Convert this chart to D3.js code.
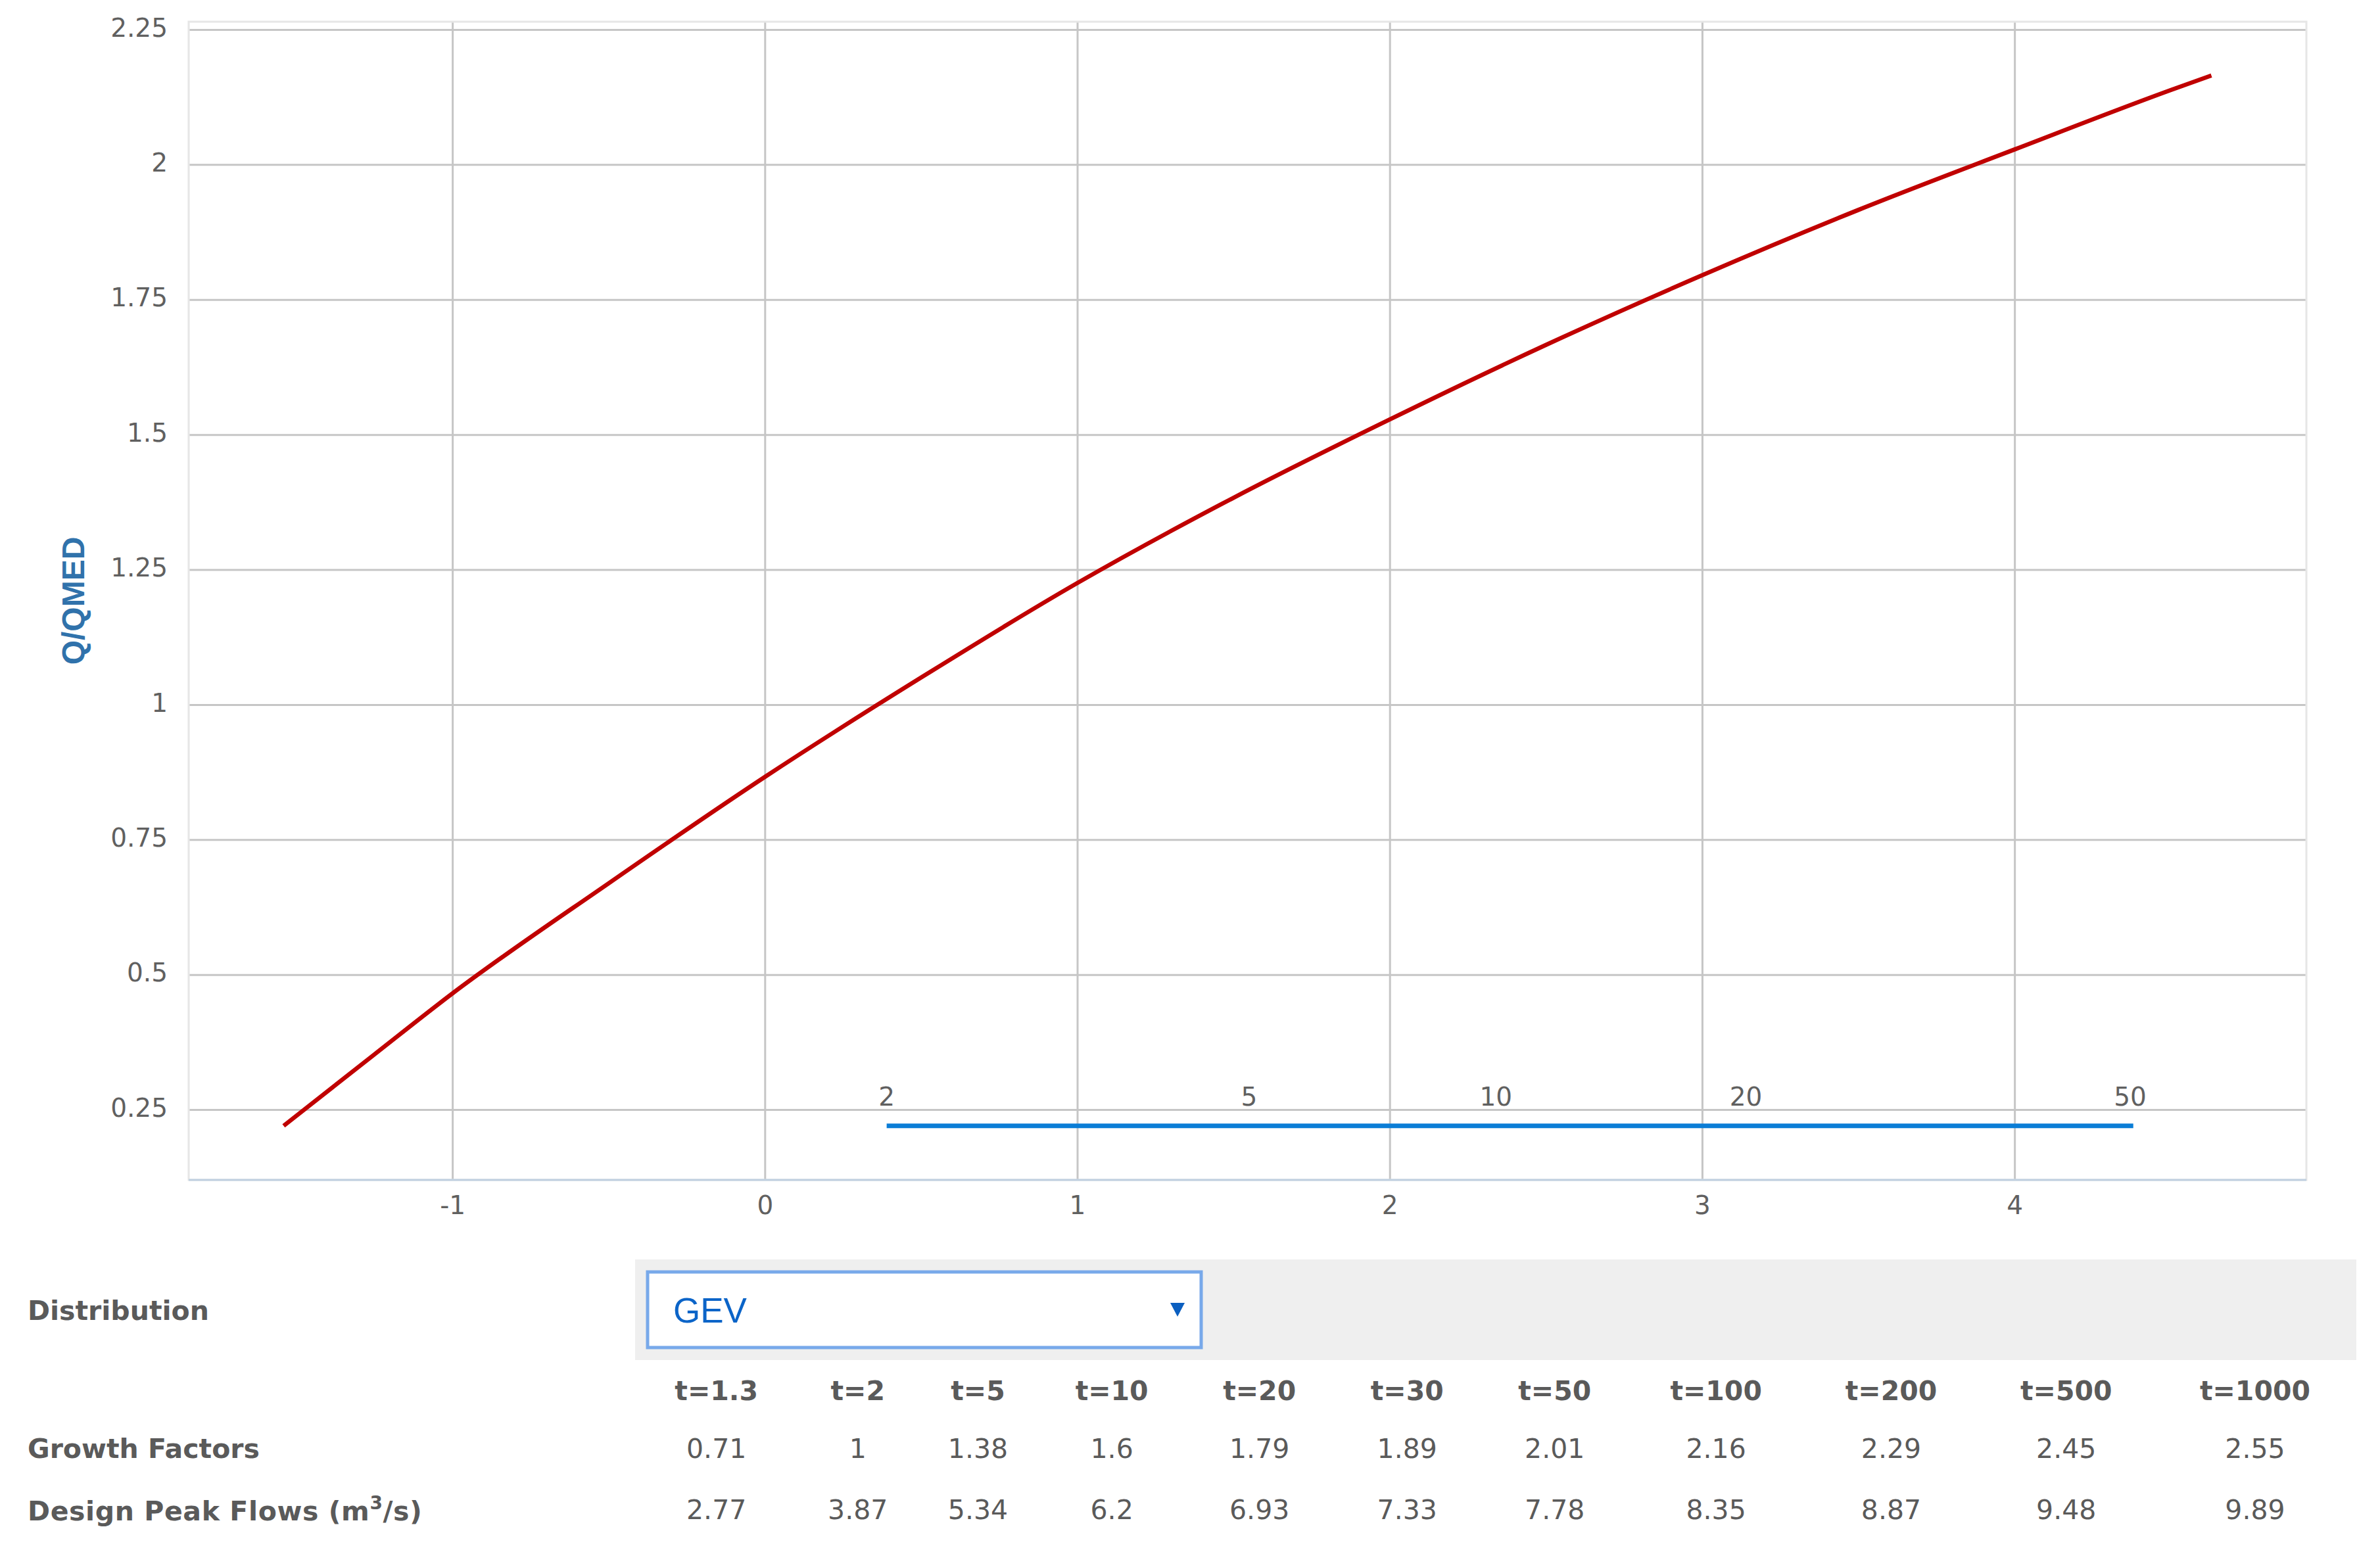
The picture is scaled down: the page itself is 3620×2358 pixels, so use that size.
<!DOCTYPE html>
<html>
<head>
<meta charset="utf-8">
<script src="https://cdn.jsdelivr.net/npm/d3@7"></script>
<style>
	body { margin: 0; background: #fff; }
	text { font-family: "DejaVu Sans", Verdana, sans-serif; }
</style>
</head>
<body>
<div id="container"></div>
<script>
// growth curve (x = reduced variate, y = Q/QMED)
var curveX = [-1.54, -1.25, -1, -0.5, 0, 0.5, 1, 1.5, 2, 2.5, 3, 3.5, 4, 4.5, 4.63];
var curveY = [0.22, 0.352, 0.465, 0.669, 0.866, 1.05, 1.225, 1.383, 1.528, 1.666, 1.795, 1.916, 2.028, 2.138, 2.165];

// return period scale drawn along the bottom
var returnPeriods = ["2", "5", "10", "20", "50"];
var returnX = [0.39, 1.55, 2.34, 3.14, 4.37];
var returnLineX = [0.39, 4.38];
var returnLineY = [0.22, 0.22];

var xTicks = [-1, 0, 1, 2, 3, 4];
var yTicks = [0.25, 0.5, 0.75, 1, 1.25, 1.5, 1.75, 2, 2.25];

// table below the chart
var distribution = "GEV";
var tLabels = ["t=1.3", "t=2", "t=5", "t=10", "t=20", "t=30", "t=50", "t=100", "t=200", "t=500", "t=1000"];
var growthFactors = ["0.71", "1", "1.38", "1.6", "1.79", "1.89", "2.01", "2.16", "2.29", "2.45", "2.55"];
var peakFlows = ["2.77", "3.87", "5.34", "6.2", "6.93", "7.33", "7.78", "8.35", "8.87", "9.48", "9.89"];

var W = 3620, H = 2358;
var pLeft = 287, pRight = 3508, pTop = 33, pBottom = 1795; //plot frame

var svg = d3.select("div#container").append("svg")
	.attr("width", W)
	.attr("height", H);

var x = d3.scaleLinear().domain([-1.844, 4.934]).range([pLeft, pRight]);
var y = d3.scaleLinear().domain([0.1198, 2.2646]).range([pBottom, pTop]);

// y grid + labels
var yAxis = svg.append("g")
	.attr("transform", "translate(" + pLeft + ",0)")
	.call(d3.axisLeft(y).tickValues(yTicks).tickSize(-(pRight - pLeft)).tickPadding(32).tickFormat(String));
// x grid + labels
var xAxis = svg.append("g")
	.attr("transform", "translate(0," + pBottom + ")")
	.call(d3.axisBottom(x).tickValues(xTicks).tickSize(-(pBottom - pTop)).tickPadding(24).tickFormat(String));

[yAxis, xAxis].forEach(function (g) {
	g.select(".domain").remove();
	g.selectAll(".tick line").attr("stroke", "#c6c6c6").attr("stroke-width", 3);
	g.selectAll(".tick text")
		.attr("fill", "#606060")
		.style("font-size", "39px")
		.style("font-family", "'DejaVu Sans', Verdana, sans-serif");
});
yAxis.selectAll(".tick text").attr("dy", "0.26em");

// plot frame
svg.append("rect")
	.attr("x", pLeft).attr("y", pTop)
	.attr("width", pRight - pLeft).attr("height", pBottom - pTop)
	.attr("fill", "none").attr("stroke", "#e6e6e6").attr("stroke-width", 3);
svg.append("line")
	.attr("x1", pLeft).attr("x2", pRight)
	.attr("y1", pBottom).attr("y2", pBottom)
	.attr("stroke", "#c0d0e0").attr("stroke-width", 3);

// axis title
svg.append("text")
	.attr("transform", "translate(128," + (pTop + pBottom) / 2 + ") rotate(-90)")
	.attr("text-anchor", "middle")
	.attr("fill", "#3072ab")
	.style("font-family", "'Liberation Sans', Arial, sans-serif")
	.style("font-weight", "bold")
	.style("font-size", "48px")
	.text("Q/QMED");

// return period line
var rp = returnLineX.map(function (d, i) { return [d, returnLineY[i]]; });
svg.append("path")
	.datum(rp)
	.attr("d", d3.line().x(function (d) { return x(d[0]); }).y(function (d) { return y(d[1]); }))
	.attr("fill", "none")
	.attr("stroke", "#0b7dd6")
	.attr("stroke-width", 7);

svg.selectAll("text.rp")
	.data(returnPeriods)
  .enter().append("text")
	.attr("class", "rp")
	.attr("x", function (d, i) { return x(returnX[i]); })
	.attr("y", y(returnLineY[0]) - 31)
	.attr("text-anchor", "middle")
	.attr("fill", "#606060")
	.style("font-size", "39px")
	.text(function (d) { return d; });

// growth curve
var pts = curveX.map(function (d, i) { return [d, curveY[i]]; });
svg.append("path")
	.datum(pts)
	.attr("d", d3.line().x(function (d) { return x(d[0]); }).y(function (d) { return y(d[1]); }).curve(d3.curveMonotoneX))
	.attr("fill", "none")
	.attr("stroke", "#c00000")
	.attr("stroke-width", 6.5);

// ---- table ----
var labelColor = "#5a5a5a";
var tableLeft = 966, tableRight = 3584;

svg.append("rect")
	.attr("x", tableLeft).attr("y", 1916)
	.attr("width", tableRight - tableLeft).attr("height", 153)
	.attr("fill", "#efefef");
svg.append("rect")
	.attr("x", 985).attr("y", 1935)
	.attr("width", 842).attr("height", 115)
	.attr("fill", "#fff").attr("stroke", "#78a9ea").attr("stroke-width", 5);
svg.append("text")
	.attr("x", 1024).attr("y", 2012)
	.attr("fill", "#0b64c8")
	.style("font-family", "'Liberation Sans', Arial, sans-serif")
	.style("font-size", "53px")
	.text(distribution);
svg.append("path")
	.attr("d", "M1780,1982 L1802,1982 L1791,2003 Z")
	.attr("fill", "#0b5fc0");

function rowLabel(txt, yy) {
	return svg.append("text")
		.attr("x", 42).attr("y", yy)
		.attr("fill", labelColor)
		.style("font-weight", "bold")
		.style("font-size", "41px")
		.text(txt);
}
rowLabel("Distribution", 2008);
rowLabel("Growth Factors", 2218);
var dp = rowLabel("Design Peak Flows (m", 2313).style("letter-spacing", "0.6px");
dp.append("tspan").attr("dy", -17).style("font-size", "28px").text("3");
dp.append("tspan").attr("dy", 17).text("/s)");

// header cells, measured to lay out columns like an auto-width table
var heads = svg.selectAll("text.head")
	.data(tLabels)
  .enter().append("text")
	.attr("class", "head")
	.attr("y", 2130)
	.attr("text-anchor", "middle")
	.attr("fill", labelColor)
	.style("font-weight", "bold")
	.style("font-size", "41px")
	.text(function (d) { return d; });

var widths = [];
heads.each(function () { widths.push(this.getComputedTextLength()); });
var pad = 62, n = widths.length;
var k = ((tableRight - tableLeft) - n * pad) / d3.sum(widths);
var centers = [], pos = tableLeft;
widths.forEach(function (w) {
	var cw = pad + k * w;
	centers.push(pos + cw / 2);
	pos += cw;
});
heads.attr("x", function (d, i) { return centers[i]; });

function valueRow(vals, yy) {
	svg.selectAll(null)
		.data(vals)
	  .enter().append("text")
		.attr("x", function (d, i) { return centers[i]; })
		.attr("y", yy)
		.attr("text-anchor", "middle")
		.attr("fill", labelColor)
		.style("font-size", "41px")
		.text(function (d) { return d; });
}
valueRow(growthFactors, 2218);
valueRow(peakFlows, 2311);
</script>
</body>
</html>
